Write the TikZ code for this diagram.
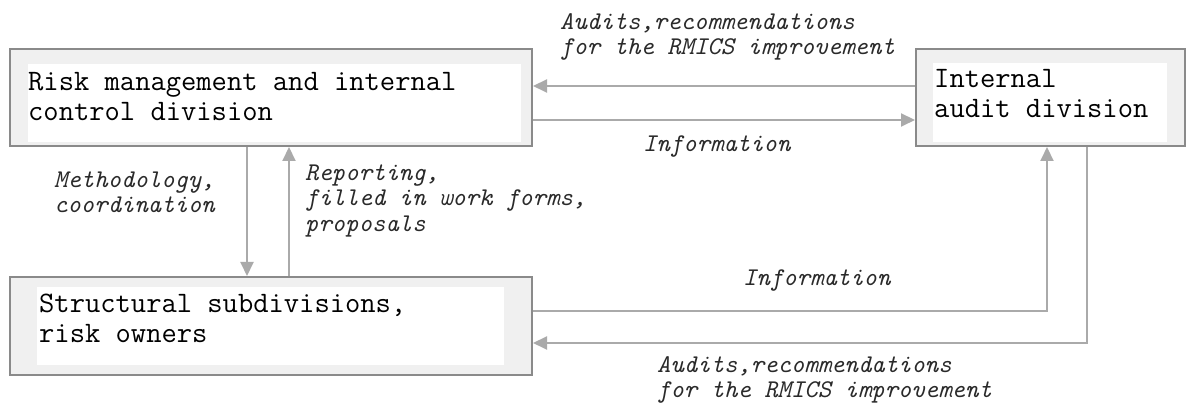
\documentclass[tikz,border=0pt]{standalone}
\usetikzlibrary{arrows.meta}
\definecolor{rimgray}{HTML}{8A8A8A}
\definecolor{padgray}{HTML}{F0F0F0}
\definecolor{flowgray}{HTML}{AAAAAA}
\definecolor{inkgray}{HTML}{2A2A2A}
\tikzset{
	division/.style={draw=rimgray, fill=padgray, line width=2pt, inner sep=0pt},
	boxtext/.style={anchor=north west, inner sep=0pt, align=left, font=\ttfamily\fontsize{29.7}{30}\selectfont},
	caption/.style={anchor=north west, inner sep=0pt, align=left, text=inkgray, font=\ttfamily\itshape\fontsize{25.5}{25.5}\selectfont},
	flow/.style={draw=flowgray, line width=2pt, -{Triangle[length=14pt,width=13pt]}}
}
\begin{document}
\begin{tikzpicture}[x=1pt, y=1pt]
	\useasboundingbox (0,0) rectangle (1186,403);
	%
	\def\divisions {rmic/271/305.5/522/97, audit/1050.5/305.5/269/97, subd/271/77/522/98};
	% draw the three divisions
	\foreach \name/\x/\y/\w/\h in \divisions{
		\node[division, minimum width=\w pt, minimum height=\h pt] (\name) at (\x,\y) {};
	}
	% white sheets inside the frames
	\fill[white] (28,339) rectangle (521,261);
	\fill[white] (933,340) rectangle (1167,261);
	\fill[white] (37,116) rectangle (504,38);
	% texts of the divisions
	\node[boxtext] (rmic text) at (28,334) {\strut Risk management and internal\\control division};
	\node[boxtext] (audit text) at (934,337) {\strut Internal\\audit division};
	\node[boxtext] (subd text) at (39,112) {\strut Structural subdivisions,\\risk owners};
	% flows between the divisions
	\draw[flow] ([yshift=11.5pt]audit.west) -- ([yshift=11.5pt]rmic.east);
	\draw[flow] ([yshift=-22.5pt]rmic.east) -- ([yshift=-22.5pt]audit.west);
	\draw[flow] ([xshift=-24pt]rmic.south) -- ([xshift=-24pt]subd.north);
	\draw[flow] ([xshift=18pt]subd.north) -- ([xshift=18pt]rmic.south);
	\draw[flow] ([yshift=15pt]subd.east) -| ([xshift=-3.5pt]audit.south);
	\draw[flow] ([xshift=36.5pt]audit.south) |- ([yshift=-17pt]subd.east);
	% captions of the flows
	\node[caption] (recup) at (560,392) {\strut Audits,recommendations\\for the RMICS improvement};
	\node[caption] (infoup) at (643,270) {\strut Information};
	\node[caption] (method) at (54,234) {\strut Methodology,\\coordination};
	\node[caption] (report) at (305,241) {\strut Reporting,\\filled in work forms,\\proposals};
	\node[caption] (infodown) at (743,136) {\strut Information};
	\node[caption] (recdown) at (657,49) {\strut Audits,recommendations\\for the RMICS improvement};
\end{tikzpicture}
\end{document}
